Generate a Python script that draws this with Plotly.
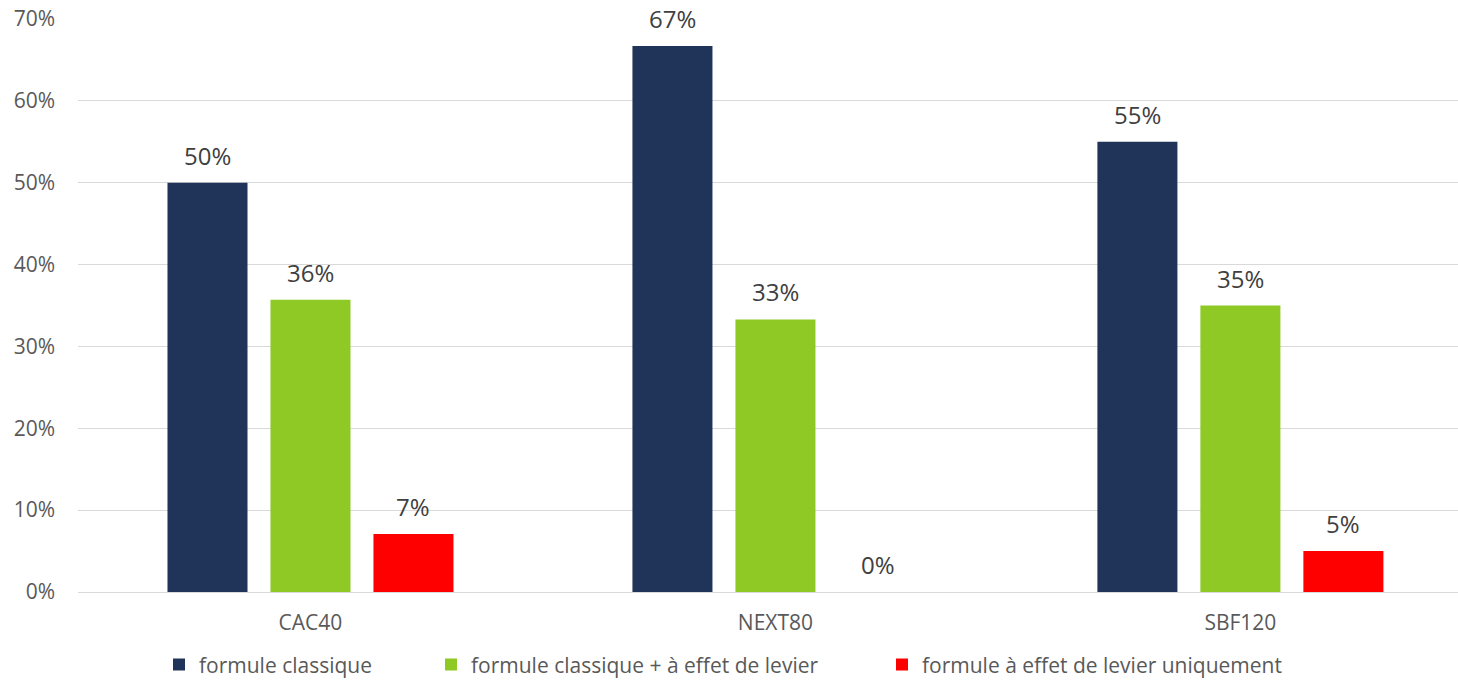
import plotly.graph_objects as go

categories = ["CAC40", "NEXT80", "SBF120"]
series_names = ["formule classique", "formule classique + à effet de levier", "formule à effet de levier uniquement"]
classique = [0.50, 0.667, 0.55]
classique_levier = [0.357, 0.333, 0.35]
levier_seul = [0.071, 0.0, 0.05]
series_values = [classique, classique_levier, levier_seul]
colors = ["#1F3458", "#8FC926", "#FF0000"]
y_ticks = [0, 0.1, 0.2, 0.3, 0.4, 0.5, 0.6, 0.7]

FONT = "Open Sans"
TXT = "#595959"

fig = go.Figure()
legend_ids = ["legend", "legend2", "legend3"]
for name, vals, col, lg in zip(series_names, series_values, colors, legend_ids):
    fig.add_trace(go.Bar(x=categories, y=vals, name=name, marker_color=col,
                         marker_line_width=0, legend=lg, hoverinfo="skip"))

offsets = [-103, 0, 103]
annotations = []
for vals, off in zip(series_values, offsets):
    for c, v in zip(categories, vals):
        annotations.append(dict(x=c, y=v, xref="x", yref="y", text=f"{v:.0%}",
                                showarrow=False, xshift=off, yshift=9, yanchor="bottom",
                                font=dict(family=FONT, size=24, color="#404040")))

leg_common = dict(orientation="h", yanchor="middle", xanchor="left", y=-0.127,
                  font=dict(family=FONT, size=21, color=TXT), bgcolor="rgba(0,0,0,0)",
                  itemwidth=30)
fig.update_layout(
    width=1458, height=680,
    margin=dict(l=78, r=0, t=19, b=88, autoexpand=False),
    paper_bgcolor="white", plot_bgcolor="white",
    barmode="group", bargap=0.3355, bargroupgap=0.223,
    annotations=annotations,
    legend=dict(x=(159 - 78) / 1380, **leg_common),
    legend2=dict(x=(431 - 78) / 1380, **leg_common),
    legend3=dict(x=(882 - 78) / 1380, **leg_common),
    showlegend=True,
)
fig.update_xaxes(range=[-0.5, 2.468], showgrid=False, showline=True, linecolor="#D9D9D9", linewidth=1,
                 tickfont=dict(family=FONT, size=21, color=TXT), ticks="",
                 ticklabelstandoff=12, fixedrange=True)
fig.update_yaxes(range=[0, 0.7], tickvals=y_ticks, tickformat=".0%",
                 showgrid=True, gridcolor="#D9D9D9", gridwidth=1,
                 zeroline=False, showline=False,
                 tickfont=dict(family=FONT, size=21, color=TXT), ticks="",
                 ticklabelstandoff=22, fixedrange=True)

fig.write_html("out.html")
